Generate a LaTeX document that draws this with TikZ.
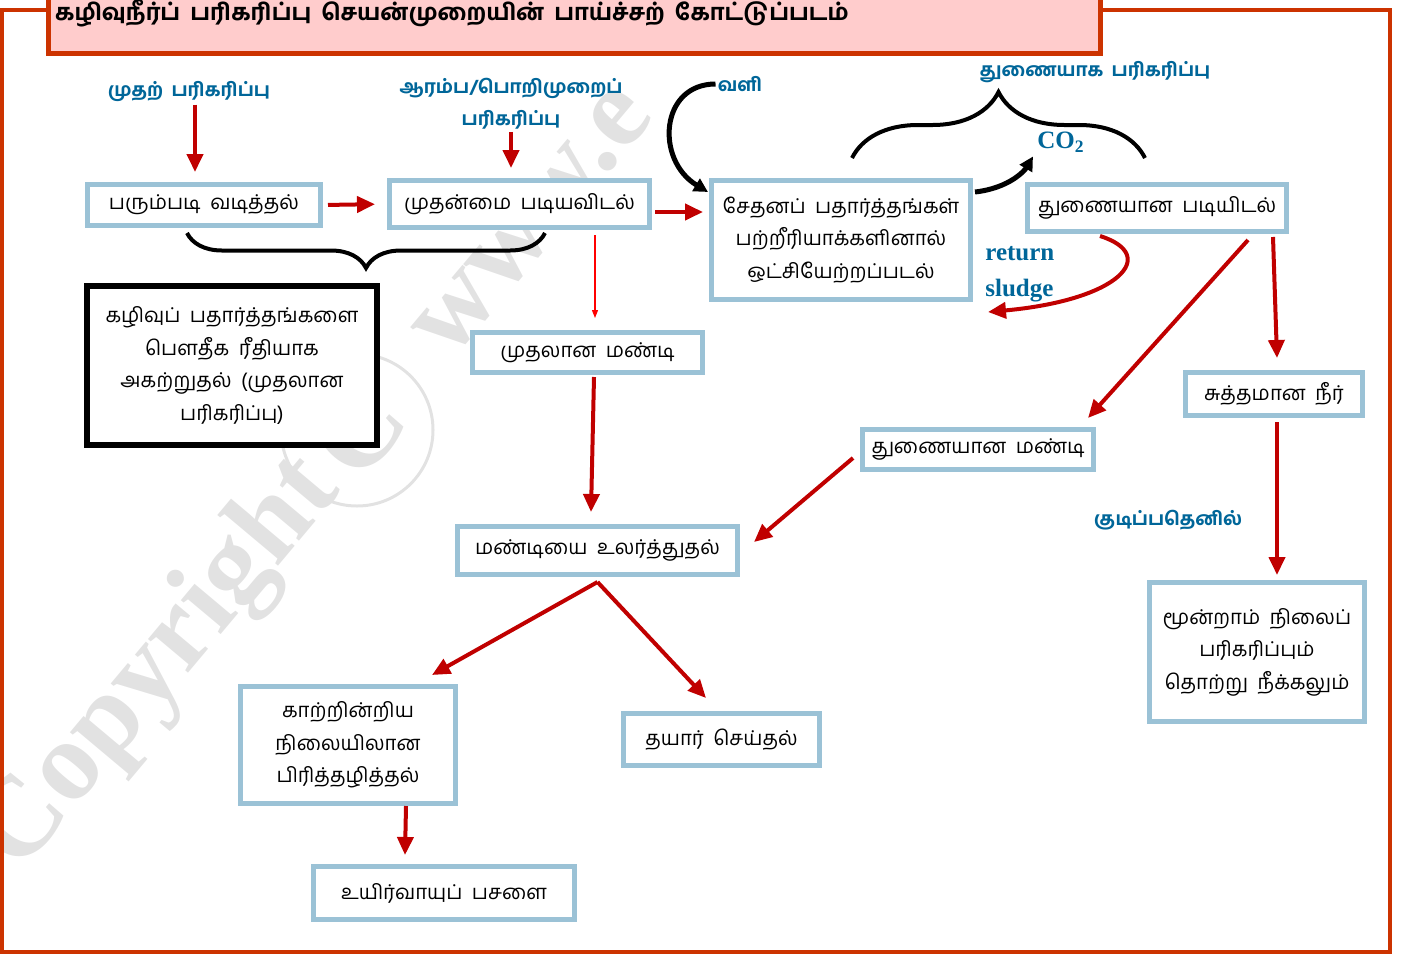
\documentclass[tikz,border=0pt]{standalone}
\usepackage{fontspec}
\setmainfont{Liberation Serif}
\newfontfamily\tam[Script=Tamil,WordSpace=1.9]{Hind Madurai}
\newfontfamily\tamb[Script=Tamil,WordSpace=1.8]{Hind Madurai Bold}
\usetikzlibrary{arrows.meta,decorations.pathreplacing,calc}
\definecolor{framecol}{RGB}{204,51,0}
\definecolor{titlefill}{RGB}{255,204,204}
\definecolor{boxblue}{RGB}{155,194,214}
\definecolor{labblue}{RGB}{0,102,153}
\definecolor{arrred}{RGB}{192,0,0}
\definecolor{wmgray}{RGB}{226,226,226}
\begin{document}
\begin{tikzpicture}[x=0.5pt,y=-0.5pt,
  box/.style={draw=boxblue, line width=2.5pt, fill=white, inner sep=0pt, align=center,
    font={\tam\fontsize{10.2}{16.25}\selectfont}},
  blackbox/.style={box, draw=black, line width=3pt},
  lab/.style={text=labblue, inner sep=1pt, align=center, font={\tamb\fontsize{9.3}{16}\selectfont}},
  latlab/.style={text=labblue, inner sep=1pt, font={\bfseries\fontsize{12.5}{18}\selectfont}},
  redarr/.style={draw=arrred, line width=2pt, -{Triangle[length=9pt,width=8pt]}},
  thinarr/.style={draw=red, line width=0.6pt, -{Triangle[length=4pt,width=3pt]}},
  blkarr/.style={draw=black, line width=2.5pt, -{Triangle[length=7pt,width=7pt]}},
  bracestyle/.style={draw=black, line width=2pt, decorate},
  wm/.style={text=wmgray, rotate=50, inner sep=0pt, font={\bfseries\fontsize{57}{60}\selectfont}},
]
\useasboundingbox (0,0) rectangle (1402,954);
% watermark
\node[wm] (wm1) at (160,665) {Copyright};
\node[draw=wmgray, line width=1.5pt, circle, minimum size=76pt, inner sep=0pt] (wmc) at (357,430) {};
\node[wm] (wm2) at (wmc) {C};
\node[wm, anchor=west] (wm3) at (430,345) {www.e};
% frame and title
\draw[draw=framecol, line width=2pt] (2,10) rectangle (1390,952);
\draw[fill=titlefill, draw=framecol, line width=2.5pt] (48,-10) rectangle (1100,53);
\node[font={\tamb\fontsize{11.4}{14}\selectfont}, inner sep=0pt] (title) at (452,13) {கழிவுநீர்ப் பரிகரிப்பு செயன்முறையின் பாய்ச்சற் கோட்டுப்படம்};
% boxes
\node[box, minimum width=116.5pt, minimum height=20.5pt] (b1) at (204,205) {பரும்படி வடித்தல்};
\node[box, minimum width=130pt, minimum height=23.5pt] (b2) at (519.5,204) {முதன்மை படியவிடல்};
\node[box, minimum width=129.5pt, minimum height=59.5pt] (b3) at (841,240) {சேதனப் பதார்த்தங்கள்\\பற்றீரியாக்களினால்\\ஒட்சியேற்றப்படல்};
\node[box, minimum width=129.5pt, minimum height=23.5pt] (b4) at (1157,208) {துணையான படியிடல்};
\node[blackbox, minimum width=145pt, minimum height=79.5pt] (b5) at (232,365.5) {கழிவுப் பதார்த்தங்களை\\பௌதீக ரீதியாக\\அகற்றுதல் (முதலான\\பரிகரிப்பு)};
\node[box, minimum width=115pt, minimum height=20pt] (b6) at (587.5,352.5) {முதலான மண்டி};
\node[box, minimum width=88.5pt, minimum height=21.5pt] (b7) at (1274,394) {சுத்தமான நீர்};
\node[box, minimum width=115.5pt, minimum height=20pt] (b8) at (978,449.5) {துணையான மண்டி};
\node[box, minimum width=140pt, minimum height=24pt] (b9) at (597.5,550.5) {மண்டியை உலர்த்துதல்};
\node[box, minimum width=107.5pt, minimum height=69.5pt] (b10) at (1257,652) {மூன்றாம் நிலைப்\\பரிகரிப்பும்\\தொற்று நீக்கலும்};
\node[box, minimum width=107.5pt, minimum height=58.5pt] (b11) at (348,745) {காற்றின்றிய\\நிலையிலான\\பிரித்தழித்தல்};
\node[box, minimum width=98pt, minimum height=26pt] (b12) at (721.5,739.5) {தயார் செய்தல்};
\node[box, minimum width=130.5pt, minimum height=26.5pt] (b13) at (444,893) {உயிர்வாயுப் பசளை};
% labels
\node[lab] (lab1) at (189,92) {முதற் பரிகரிப்பு};
\node[lab] (lab2) at (511,104) {ஆரம்ப/பொறிமுறைப்\\பரிகரிப்பு};
\node[lab] (labair) at (740,84) {வளி};
\node[lab] (lab3) at (1095,72) {துணையாக பரிகரிப்பு};
\node[lab] (lab4) at (1168,520) {குடிப்பதெனில்};
\node[latlab] (labco) at (1061,142) {CO\textsubscript{2}};
\node[latlab, anchor=west, align=left] (labret) at (983,274) {return\\sludge};
% braces
\draw[bracestyle, decoration={brace, amplitude=17.5pt}] (545,233) -- (187,233);
\draw[bracestyle, decoration={brace, amplitude=33pt}] (852,158) -- (1145,158);
% red arrows
\draw[redarr] ([xshift=3pt]lab1.south) -- ([xshift=-4.5pt,yshift=5pt]b1.north);
\draw[redarr] (lab2.south) -- ([xshift=-4.25pt,yshift=5pt]b2.north);
\draw[redarr, shorten <=2.5pt, shorten >=6pt] (b1.east) -- (b2.west);
\coordinate (d1) at ([yshift=-4pt]b2.east);
\draw[redarr, shorten <=1.5pt, shorten >=3pt] (d1) -- (d1 -| b3.west);
\coordinate (t1) at ([xshift=3.75pt]b6.north);
\draw[thinarr, shorten <=2.5pt, shorten >=6pt] (t1 |- b2.south) -- (t1);
\draw[redarr] ([xshift=3.25pt,yshift=-1pt]b6.south) -- ([xshift=-3.25pt,yshift=6pt]b9.north);
\draw[redarr] ([xshift=45.5pt,yshift=-3pt]b4.south) -- ([xshift=-4pt,yshift=4.5pt]b8.north east);
\draw[redarr] ([xshift=-8pt,yshift=-1.5pt]b4.south east) -- ([xshift=1.5pt,yshift=6pt]b7.north);
\draw[redarr] ([xshift=1.5pt,yshift=-2pt]b7.south) -- ([xshift=10pt,yshift=2.5pt]b10.north);
\draw[redarr] ([xshift=-3.5pt,yshift=-4.25pt]b8.west) -- ([xshift=7pt,yshift=4.25pt]b9.east);
\draw[redarr] ([yshift=-2.5pt]b9.south) -- ([xshift=42pt,yshift=4.5pt]b11.north);
\draw[redarr] ([yshift=-2.5pt]b9.south) -- ([xshift=-7.75pt,yshift=6.5pt]b12.north);
\draw[redarr] ([xshift=29pt]b11.south) -- ([xshift=-19.5pt,yshift=4.5pt]b13.north);
\draw[redarr] ([xshift=-28.5pt,yshift=-1pt]b4.south) .. controls (1160,255) and (1120,300) .. ([xshift=7.5pt,yshift=-5pt]b3.south east);
% black arrows
\draw[blkarr] (labair.west) .. controls (660,84) and (655,160) .. ([xshift=-0.5pt,yshift=-7pt]b3.north west);
\draw[blkarr] ([xshift=1pt,yshift=-7pt]b3.north east) .. controls (1010,188) and (1025,170) .. ([xshift=-1pt,yshift=-1pt]labco.south west);
\end{tikzpicture}
\end{document}
